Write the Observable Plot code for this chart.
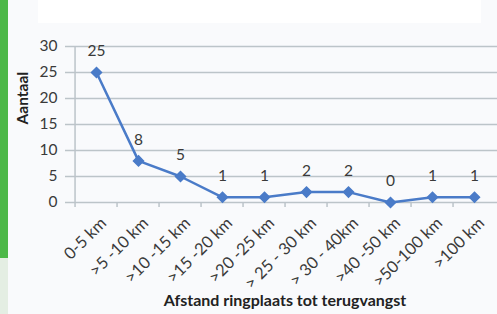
<!DOCTYPE html>
<html>
<head>
<meta charset="utf-8">
<script src="https://cdn.jsdelivr.net/npm/d3@7"></script>
<script src="https://cdn.jsdelivr.net/npm/@observablehq/plot@0.6"></script>
<style>
  html, body { margin: 0; padding: 0; background: #f9fafc; }
  #wrap { position: relative; width: 497px; height: 314px; overflow: hidden; background: #f9fafc; }
  #greenbar { position: absolute; left: 0; top: 0; width: 8px; height: 258px; background: #4db848; }
  #greenlow { position: absolute; left: 0; top: 258px; width: 8px; height: 56px; background: #e4eee3; }
  #whiteblock { position: absolute; left: 38px; top: 0; width: 443px; height: 23px; background: #ffffff; }
  #chart { position: absolute; left: 0; top: 0; }
  #chart svg { background: transparent; }
</style>
</head>
<body>
<div id="wrap">
  <div id="greenbar"></div>
  <div id="greenlow"></div>
  <div id="whiteblock"></div>
  <div id="chart"></div>
</div>
<script>
const categories = ["0-5 km", ">5 -10 km", ">10 -15 km", ">15 -20 km", ">20 -25 km", "> 25 - 30 km", "> 30 - 40km", ">40 -50 km", ">50-100 km", ">100 km"];
const counts = [25, 8, 5, 1, 1, 2, 2, 0, 1, 1];
const yTicks = [0, 5, 10, 15, 20, 25, 30];
const yLabel = "Aantaal";
const xLabel = "Afstand ringplaats tot terugvangst";

const data = categories.map((c, i) => ({cat: c, n: counts[i]}));
const step = (499 - 70) / categories.length;
const gridColor = "#bcc4c9";
const textColor = "#3a3a3a";
const blue = "#4a7bc8";

const chart = Plot.plot({
  width: 497,
  height: 314,
  marginLeft: 70,
  marginRight: -2,
  marginTop: 46,
  marginBottom: 112,
  style: {fontFamily: "Lato, 'Open Sans', sans-serif", fontSize: "14px", color: textColor, background: "transparent"},
  x: {type: "point", domain: categories, range: [70, 499], padding: 0.5, axis: null},
  y: {domain: [0, 30], axis: null},
  marks: [
    Plot.ruleY(yTicks, {stroke: gridColor, strokeWidth: 1.5}),
    Plot.axisY(yTicks, {tickSize: 5, tickPadding: 8, stroke: gridColor, strokeWidth: 1.5, fontSize: 15.5, fill: textColor, label: null}),
    Plot.ruleX([categories[0]], {x: d => d, y1: 0, y2: 30, dx: -step / 2, stroke: gridColor, strokeWidth: 1.5}),
    Plot.ruleX(categories, {x: d => d, y1: 0, y2: 0, insetBottom: -5, dx: -step / 2, stroke: gridColor, strokeWidth: 1.5}),
    Plot.line(data, {x: "cat", y: "n", stroke: blue, strokeWidth: 2.5}),
    Plot.dot(data, {x: "cat", y: "n", symbol: "diamond2", r: 4.5, fill: blue, stroke: blue}),
    Plot.text(data, {x: "cat", y: "n", text: d => String(d.n), dy: -21, fontSize: 15.5, fill: textColor}),
    Plot.text(categories, {x: d => d, y: () => 0, text: d => d, rotate: -45, textAnchor: "end", dx: 7, dy: 18, fontSize: 16.5, fill: textColor}),
    Plot.text([yLabel], {frameAnchor: "left", dx: -47, rotate: -90, fontWeight: "bold", fontSize: 15.5, fill: "#222"}),
    Plot.text([xLabel], {frameAnchor: "bottom", dy: 103, fontWeight: "bold", fontSize: 16, fill: "#222"})
  ]
});
document.getElementById("chart").appendChild(chart);
</script>
</body>
</html>
